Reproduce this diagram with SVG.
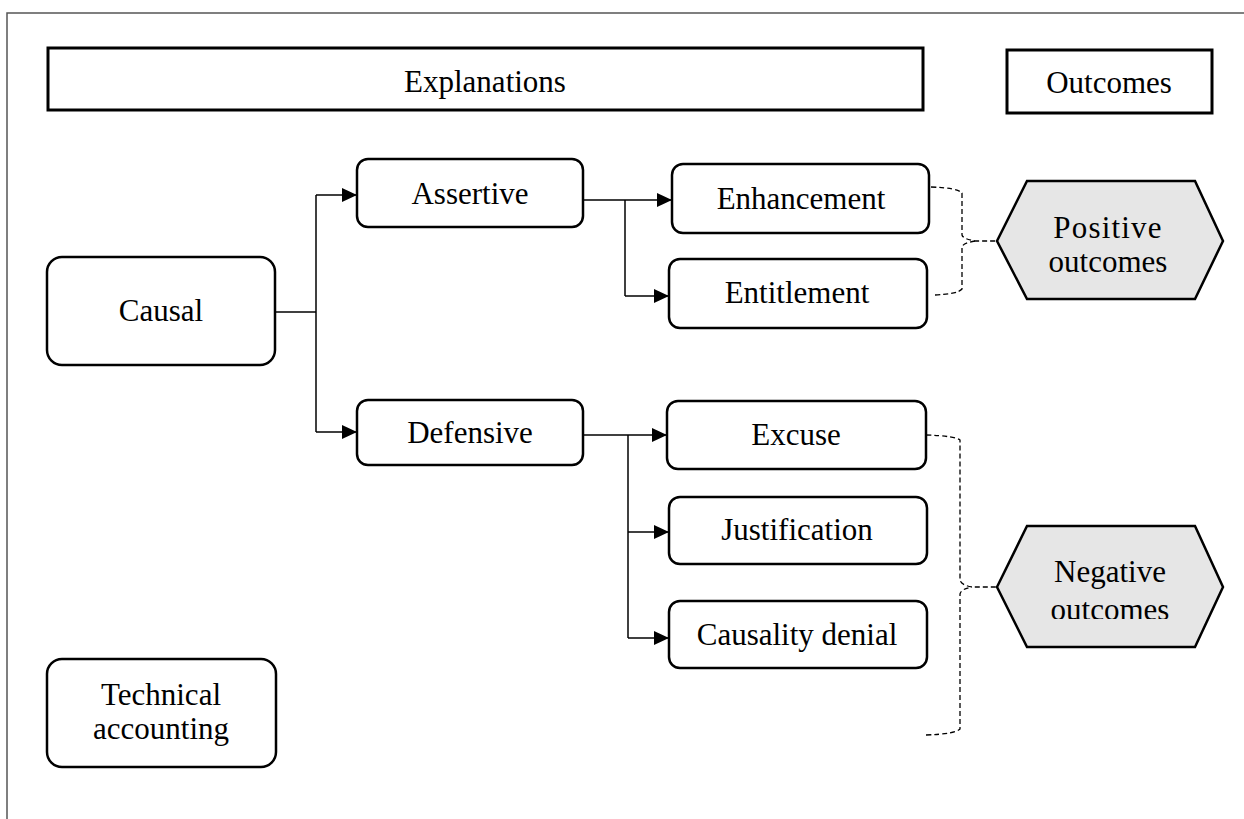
<svg xmlns="http://www.w3.org/2000/svg" width="1244" height="819" viewBox="0 0 1244 819">
  <style>
    .frame { fill: none; stroke: #555; stroke-width: 1.5; }
    .header { fill: #fff; stroke: #000; stroke-width: 3; }
    .box { fill: #fff; stroke: #000; stroke-width: 2.5; }
    .hex { fill: #e6e6e6; stroke: #000; stroke-width: 2.5; }
    .lbl { font-family: "Liberation Serif", "Times New Roman", serif; font-size: 31px; fill: #000; text-anchor: middle; }
    .link { fill: none; stroke: #000; stroke-width: 1.5; }
    .brace { fill: none; stroke: #000; stroke-width: 1.3; stroke-dasharray: 5 3; }
  </style>
  <defs>
    <marker id="arrow" viewBox="0 0 15 14" refX="15" refY="7" markerWidth="15" markerHeight="14" markerUnits="userSpaceOnUse" orient="auto">
      <path d="M0,0 L15,7 L0,14 Z" fill="#000"/>
    </marker>
    <clipPath id="negClip">
      <rect x="990" y="520" width="240" height="99"/>
    </clipPath>
  </defs>

  <rect class="frame" x="7" y="13" width="1250" height="820"/>

  <g id="explanations">
    <rect class="header" x="48" y="48" width="875" height="62"/>
    <text class="lbl" x="485" y="92">Explanations</text>
  </g>
  <g id="outcomes">
    <rect class="header" x="1007" y="50" width="205" height="63"/>
    <text class="lbl" x="1109" y="93">Outcomes</text>
  </g>

  <g id="causal">
    <rect class="box" x="47" y="257" width="228" height="108" rx="15"/>
    <text class="lbl" x="161" y="321">Causal</text>
  </g>
  <g id="technical-accounting">
    <rect class="box" x="47" y="659" width="229" height="108" rx="15"/>
    <text class="lbl" x="161" y="705">Technical</text>
    <text class="lbl" x="161" y="739">accounting</text>
  </g>

  <g id="assertive">
    <rect class="box" x="357" y="159" width="226" height="68" rx="11"/>
    <text class="lbl" x="470" y="204">Assertive</text>
  </g>
  <g id="defensive">
    <rect class="box" x="357" y="400" width="226" height="65" rx="11"/>
    <text class="lbl" x="470" y="443">Defensive</text>
  </g>

  <g id="enhancement">
    <rect class="box" x="672" y="164" width="257" height="69" rx="11"/>
    <text class="lbl" x="801" y="209">Enhancement</text>
  </g>
  <g id="entitlement">
    <rect class="box" x="669" y="259" width="258" height="69" rx="11"/>
    <text class="lbl" x="797" y="303">Entitlement</text>
  </g>
  <g id="excuse">
    <rect class="box" x="667" y="401" width="259" height="68" rx="11"/>
    <text class="lbl" x="796" y="445">Excuse</text>
  </g>
  <g id="justification">
    <rect class="box" x="669" y="497" width="258" height="67" rx="11"/>
    <text class="lbl" x="797" y="540">Justification</text>
  </g>
  <g id="causality-denial">
    <rect class="box" x="669" y="601" width="258" height="67" rx="11"/>
    <text class="lbl" x="797" y="645">Causality denial</text>
  </g>

  <g id="positive-outcomes">
    <polygon class="hex" points="997,241 1027,181 1195,181 1223,241 1195,299 1027,299"/>
    <text class="lbl" x="1108" y="238" letter-spacing="1.2">Positive</text>
    <text class="lbl" x="1108" y="272">outcomes</text>
  </g>
  <g id="negative-outcomes">
    <polygon class="hex" points="997,587 1027,526 1195,526 1223,587 1195,647 1027,647"/>
    <text class="lbl" x="1110" y="582">Negative</text>
    <text class="lbl" x="1110" y="620" clip-path="url(#negClip)">outcomes</text>
  </g>

  <g id="connectors">
    <!-- Causal to its two branches -->
    <path class="link" d="M275,312 H316"/>
    <path class="link" d="M316,195 V432"/>
    <path class="link" d="M316,195 H357" marker-end="url(#arrow)"/>
    <path class="link" d="M316,432 H357" marker-end="url(#arrow)"/>

    <!-- Assertive branches -->
    <path class="link" d="M583,200 H625"/>
    <path class="link" d="M625,200 V296"/>
    <path class="link" d="M625,200 H672" marker-end="url(#arrow)"/>
    <path class="link" d="M625,296 H669" marker-end="url(#arrow)"/>

    <!-- Defensive branches -->
    <path class="link" d="M583,435 H628"/>
    <path class="link" d="M628,435 V638"/>
    <path class="link" d="M628,435 H667" marker-end="url(#arrow)"/>
    <path class="link" d="M628,532 H669" marker-end="url(#arrow)"/>
    <path class="link" d="M628,638 H669" marker-end="url(#arrow)"/>

    <!-- Dashed braces toward the outcomes -->
    <path class="brace" d="M931,187 Q958,188 962,193 V235 Q963,239 975,241 H997"/>
    <path class="brace" d="M935,295 Q958,294 962,289 V247 Q963,243 975,241"/>
    <path class="brace" d="M926,435 Q955,436 960,440 V580 Q961,585 972,587 H997"/>
    <path class="brace" d="M926,735 Q955,734 960,729 V594 Q961,589 972,587"/>
  </g>
</svg>
